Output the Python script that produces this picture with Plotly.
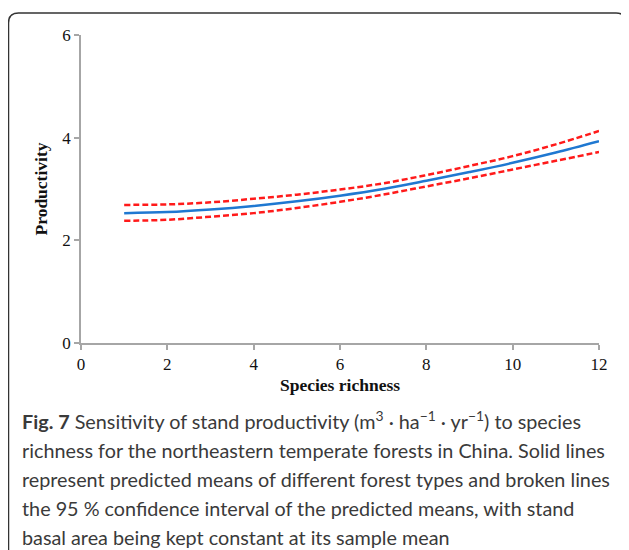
import plotly.graph_objects as go

species_richness = [1, 2, 3, 4, 5, 6, 7, 8, 9, 10, 11, 12]
mean_prod = [2.53, 2.55, 2.60, 2.67, 2.76, 2.87, 3.00, 3.16, 3.33, 3.51, 3.71, 3.93]
upper_ci = [2.69, 2.70, 2.74, 2.81, 2.89, 2.99, 3.11, 3.27, 3.45, 3.64, 3.87, 4.13]
lower_ci = [2.38, 2.40, 2.46, 2.53, 2.63, 2.75, 2.89, 3.05, 3.21, 3.38, 3.55, 3.72]

x_ticks = [0, 2, 4, 6, 8, 10, 12]
y_ticks = [0, 2, 4, 6]

caption_lines = [
    "<b>Fig. 7</b> Sensitivity of stand productivity (m<sup>3</sup> · ha<sup>−1</sup> · yr<sup>−1</sup>) to species",
    "richness for the northeastern temperate forests in China. Solid lines",
    "represent predicted means of different forest types and broken lines",
    "the 95 % confidence interval of the predicted means, with stand",
    "basal area being kept constant at its sample mean",
]

OFF = 8  # page body margin
W, H = 629 - OFF, 550 - OFF
L, R, T, B = 81 - OFF, 599 - OFF, 35 - OFF, 342.7 - OFF
pw, ph = R - L, B - T

def px(x):
    return (x - OFF - L) / pw

def py(y):
    return (B - (y - OFF)) / ph

fig = go.Figure()
for ys in (upper_ci, lower_ci):
    fig.add_trace(go.Scatter(x=species_richness, y=ys, mode="lines",
                             line=dict(color="#ff1a1a", width=2.5, dash="6px,3px", shape="spline"),
                             hoverinfo="skip", showlegend=False))
fig.add_trace(go.Scatter(x=species_richness, y=mean_prod, mode="lines",
                         line=dict(color="#1f78d1", width=2.5, shape="spline"),
                         showlegend=False))

tick_font = dict(family="Liberation Serif, Times New Roman, serif", size=17, color="#111")
title_font = dict(family="Liberation Serif, Times New Roman, serif", size=17.5, color="#111")
fig.update_xaxes(range=[0, 12], tickvals=x_ticks, showgrid=False, zeroline=False,
                 showline=True, linecolor="#a6a6a6", linewidth=1.5,
                 ticks="outside", ticklen=5, tickcolor="#a6a6a6", tickwidth=1.5,
                 tickfont=tick_font,
                 title=dict(text="<b>Species richness</b>", font=title_font, standoff=6))
fig.update_yaxes(range=[0, 6], tickvals=y_ticks, showgrid=False, zeroline=False,
                 showline=True, linecolor="#a6a6a6", linewidth=1.5,
                 ticks="outside", ticklen=5, tickcolor="#a6a6a6", tickwidth=1.5,
                 tickfont=tick_font,
                 title=dict(text="<b>Productivity</b>", font=title_font, standoff=10))

# rounded border box
x0, x1 = px(8.5), px(626)
y0, y1 = py(13), py(570)
rx = 10 / pw
ry = 10 / ph
path = (f"M {x0+rx},{y0} L {x1-rx},{y0} Q {x1},{y0} {x1},{y0-ry} "
        f"L {x1},{y1} L {x0},{y1} L {x0},{y0-ry} Q {x0},{y0} {x0+rx},{y0} Z")
fig.add_shape(type="path", path=path, xref="paper", yref="paper",
              line=dict(color="#333", width=1.5), fillcolor="rgba(0,0,0,0)", layer="below")

line_y = [420, 450, 479, 508, 537]
for txt, yy in zip(caption_lines, line_y):
    fig.add_annotation(text=txt, x=px(20), y=py(yy), xref="paper", yref="paper",
                       xanchor="left", yanchor="middle", showarrow=False,
                       font=dict(family="Lato, Open Sans, sans-serif", size=19.8, color="#3a3a3a"))

fig.update_layout(width=W, height=H, margin=dict(l=L, r=W - R, t=T, b=H - B),
                  paper_bgcolor="white", plot_bgcolor="white")
fig.write_html("out.html")
